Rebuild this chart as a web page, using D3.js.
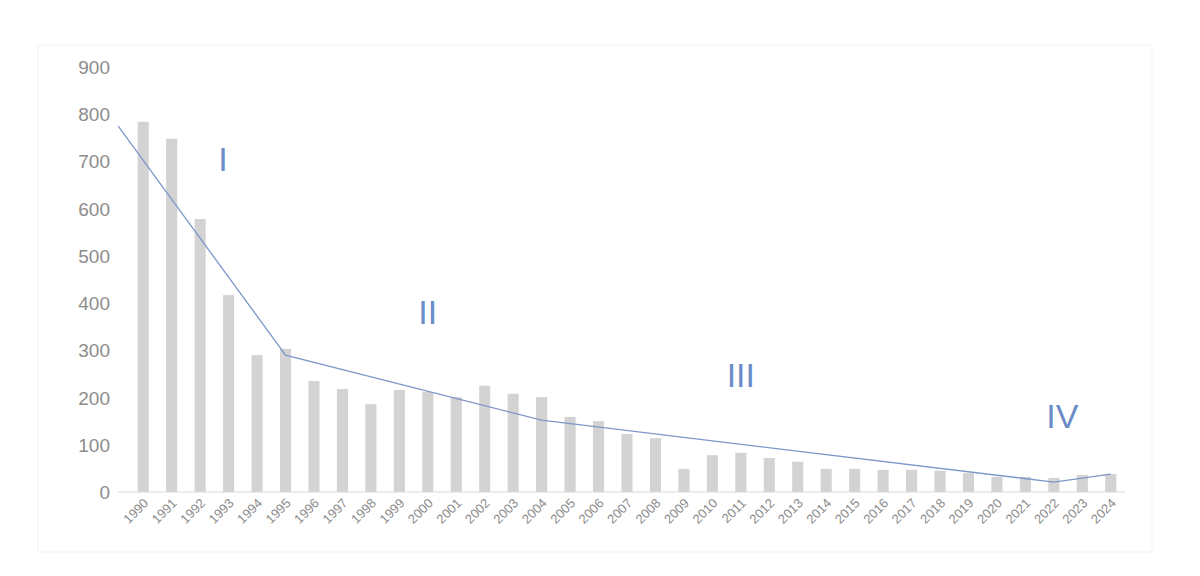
<!DOCTYPE html>
<html><head><meta charset="utf-8">
<script src="https://cdn.jsdelivr.net/npm/d3@7"></script>
<style>body{margin:0;background:#fff}svg{font-family:"Liberation Sans",Arial,sans-serif}</style>
</head><body><svg id="c" width="1200" height="576"></svg>
<script>
const years=[];for(let y=1990;y<=2024;y++)years.push(String(y));
const values=[784,748,578,417,290,303,235,218,186,216,212,201,225,208,201,159,150,123,114,49,78,83,72,64,49,49,47,47,45,40,32,32,30,36,38];
const trendIdx=[-0.88,5,14,32,34];
const trendVal=[775,290,152,21,38];
const yTicks=[0,100,200,300,400,500,600,700,800,900];
const phases=[{t:"I",i:2.8,v:680},{t:"II",i:10,v:355},{t:"III",i:21,v:222},{t:"IV",i:32.3,v:135}];

const svg=d3.select("#c");
svg.append("rect").attr("x",38).attr("y",45).attr("width",1114).attr("height",507).attr("fill","none").attr("stroke","#f3f3f3");
const x=d3.scaleBand().domain(years).range([129,1125]).paddingInner(0.61).paddingOuter(0.305);
const y=d3.scaleLinear().domain([0,900]).range([492,67]);
const cx=i=>129+x.step()*(i+0.5);
yTicks.forEach(t=>svg.append("text").attr("x",110).attr("y",y(t)+7).attr("text-anchor","end").attr("font-size",19).attr("fill","#8c8c8c").text(t));
svg.selectAll(".b").data(values).join("rect").attr("x",(d,i)=>x(years[i])).attr("y",d=>y(d)).attr("width",x.bandwidth()).attr("height",d=>y(0)-y(d)).attr("fill","#d3d3d3");
svg.append("line").attr("x1",118).attr("x2",1125).attr("y1",y(0)).attr("y2",y(0)).attr("stroke","#d9d9d9");
years.forEach((yr,i)=>svg.append("text").attr("transform",`translate(${cx(i)+6},${y(0)+12}) rotate(-45)`).attr("text-anchor","end").attr("font-size",13).attr("fill","#8c8c8c").text(yr));
const line=d3.line().x(d=>cx(d[0])).y(d=>y(d[1]));
svg.append("path").attr("d",line(trendIdx.map((d,i)=>[d,trendVal[i]]))).attr("fill","none").attr("stroke","#7d97c9").attr("stroke-width",1.3);
phases.forEach(p=>svg.append("text").attr("x",cx(p.i)).attr("y",y(p.v)).attr("text-anchor","middle").attr("font-size",34).attr("fill","#6b8cc7").text(p.t));
</script></body></html>
